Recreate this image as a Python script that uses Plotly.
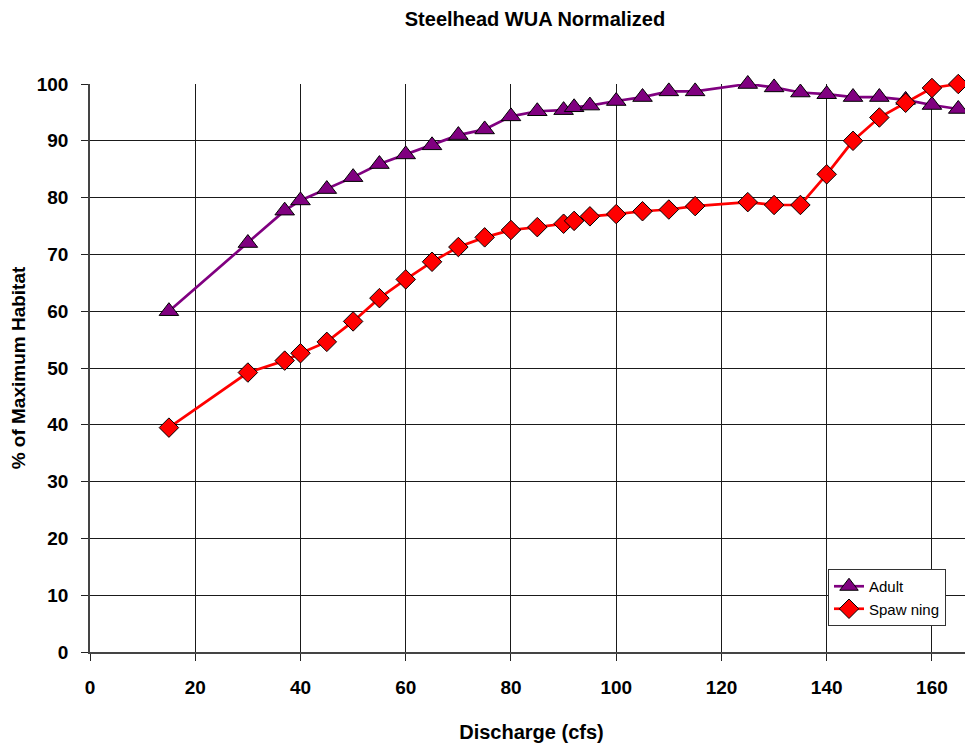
import plotly.graph_objects as go

discharge = [15, 30, 37, 40, 45, 50, 55, 60, 65, 70, 75, 80, 85, 90, 92, 95, 100,
             105, 110, 115, 125, 130, 135, 140, 145, 150, 155, 160, 165]
adult = [60, 72, 77.7, 79.5, 81.5, 83.6, 85.9, 87.6, 89.2, 91, 92, 94.3, 95.2, 95.4,
         95.9, 96.2, 97, 97.7, 98.7, 98.7, 100, 99.4, 98.5, 98.2, 97.7, 97.7, 97.2, 96.3, 95.6]
spawning = [39.5, 49.2, 51.3, 52.6, 54.6, 58.2, 62.3, 65.6, 68.7, 71.3, 73, 74.3, 74.8,
            75.4, 75.9, 76.7, 77.1, 77.6, 77.9, 78.5, 79.2, 78.7, 78.7, 84.1, 90, 94.1,
            96.7, 99.3, 100]
x_ticks = [0, 20, 40, 60, 80, 100, 120, 140, 160]
y_ticks = [0, 10, 20, 30, 40, 50, 60, 70, 80, 90, 100]

FONT = "Liberation Sans, Arial"
OFF = 8  # page body margin
W, H = 973 - OFF, 743 - OFF
L, R, T = 90 - OFF, 0, 84 - OFF
B = H - (652 - OFF)
PW, PH = W - L - R, H - T - B

fig = go.Figure()
fig.add_trace(go.Scatter(
    x=discharge, y=adult, name="Adult", mode="lines+markers", cliponaxis=False,
    line=dict(color="#800080", width=2.7),
    marker=dict(symbol="triangle-up", size=17, color="#800080",
                line=dict(color="black", width=1))))
fig.add_trace(go.Scatter(
    x=discharge, y=spawning, name="Spaw ning", mode="lines+markers", cliponaxis=False,
    line=dict(color="#FF0000", width=2.7),
    marker=dict(symbol="diamond", size=15, color="#FF0000",
                line=dict(color="black", width=1))))

fig.update_layout(
    width=W, height=H,
    margin=dict(l=L, r=R, t=T, b=B, autoexpand=False),
    paper_bgcolor="white", plot_bgcolor="white",
    title=dict(text="Steelhead WUA Normalized", x=(535 - OFF) / W, xanchor="center",
               xref="container", y=1 - (19 - OFF) / H, yanchor="middle",
               yref="container", automargin=False,
               font=dict(family=FONT, size=20, color="black", weight="bold")),
    xaxis=dict(range=[0, 167.8], tickvals=x_ticks, showgrid=True, gridcolor="#1a1a1a",
               gridwidth=1, ticks="outside", ticklen=7, tickcolor="#222",
               showline=True, linecolor="#444", linewidth=1.5, zeroline=False,
               automargin=False, ticklabelstandoff=10,
               tickfont=dict(family=FONT, size=19, color="black", weight="bold"),
               title=dict(text="Discharge (cfs)", standoff=33,
                          font=dict(family=FONT, size=20, color="black", weight="bold"))),
    yaxis=dict(range=[0, 100], tickvals=y_ticks, showgrid=True, gridcolor="#1a1a1a",
               gridwidth=1, ticks="outside", ticklen=7, tickcolor="#222",
               showline=True, linecolor="#444", linewidth=1.5, zeroline=False,
               automargin=False, ticklabelstandoff=9,
               tickfont=dict(family=FONT, size=19, color="black", weight="bold"),
               title=dict(text="% of Maximum Habitat", standoff=18,
                          font=dict(family=FONT, size=19, color="black", weight="bold"))),
    legend=dict(x=(828 - 90) / PW, y=1 - (569 - 84) / PH, xref="paper", yref="paper",
                xanchor="left", yanchor="top", bgcolor="white",
                bordercolor="#333", borderwidth=1,
                font=dict(family=FONT, size=15, color="black"),
                tracegroupgap=0),
)
fig.write_html("out.html")
